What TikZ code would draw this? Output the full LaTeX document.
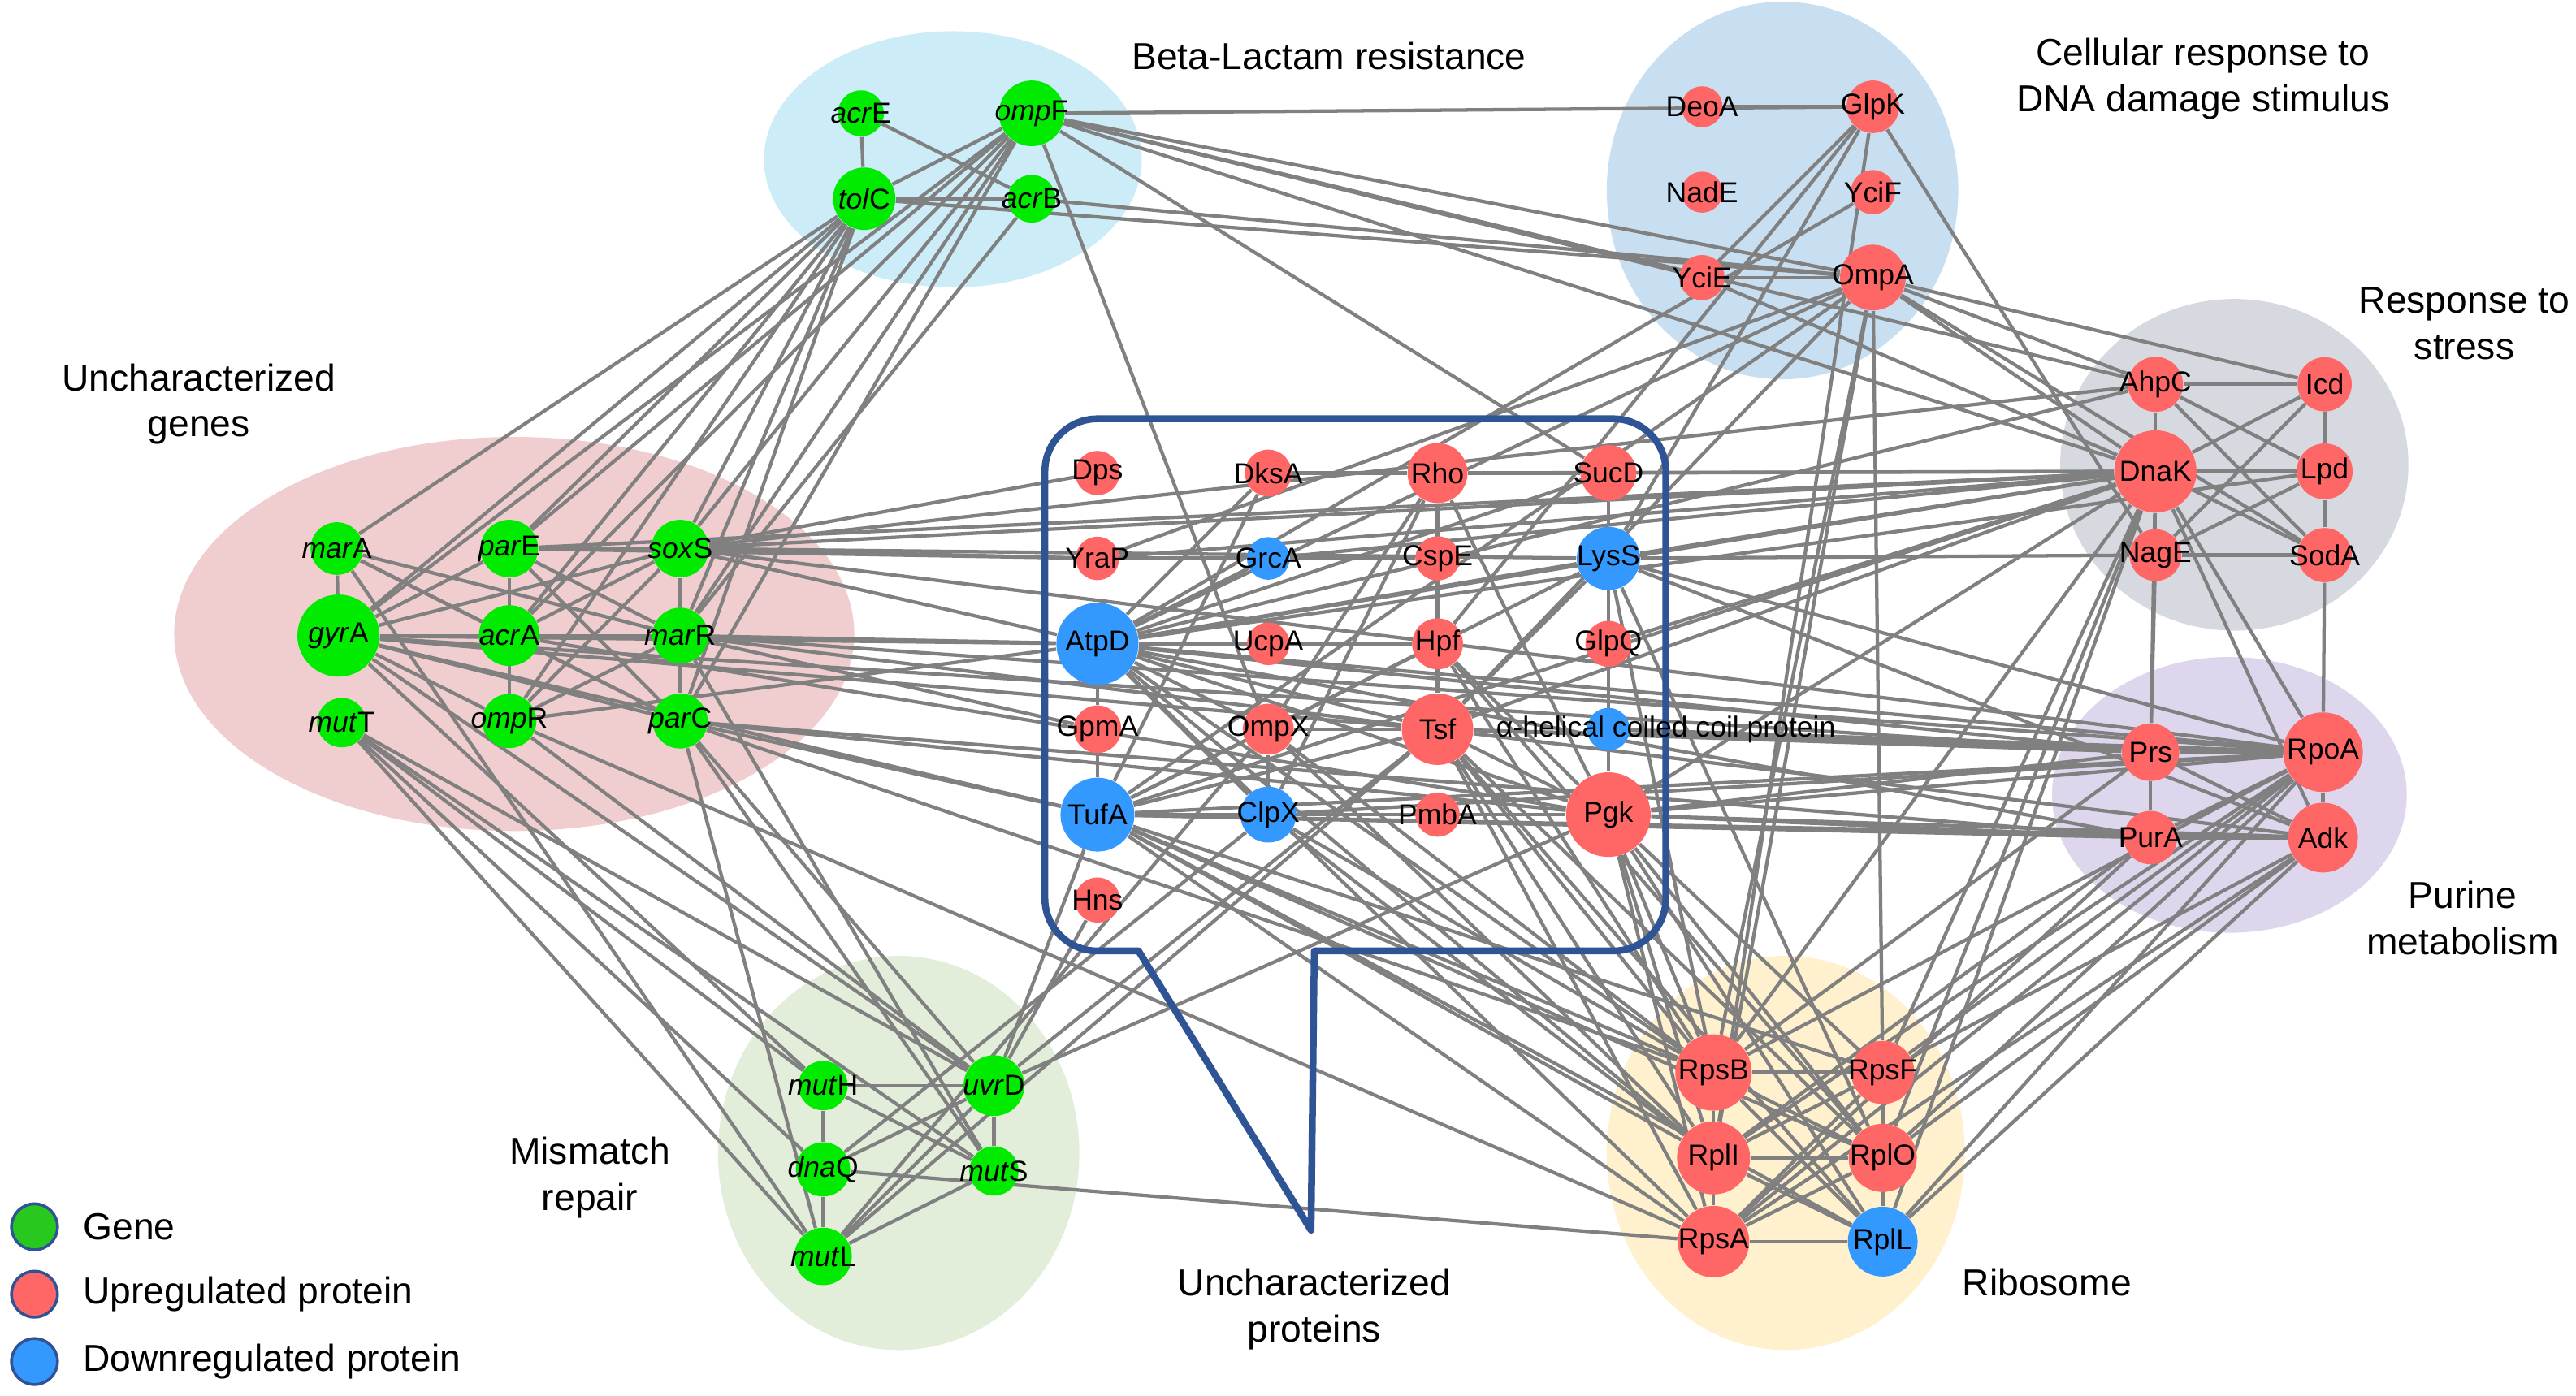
\documentclass[tikz,border=0pt]{standalone}
\usepackage{fontspec}
\setmainfont{Liberation Sans}
\usetikzlibrary{positioning}
\definecolor{genegreen}{RGB}{0,235,0}
\definecolor{upred}{RGB}{255,102,102}
\definecolor{downblue}{RGB}{51,153,255}
\definecolor{edgegray}{RGB}{128,128,128}
\definecolor{boxblue}{RGB}{47,84,150}
\definecolor{leggreen}{RGB}{40,200,30}
\definecolor{bgbeta}{RGB}{204,236,248}
\definecolor{bgdna}{RGB}{200,223,241}
\definecolor{bgstress}{RGB}{214,218,224}
\definecolor{bgpurine}{RGB}{222,214,236}
\definecolor{bggenes}{RGB}{240,205,206}
\definecolor{bgmismatch}{RGB}{226,237,218}
\definecolor{bgribo}{RGB}{255,241,206}
\pgfdeclarelayer{blobs}
\pgfdeclarelayer{links}
\pgfsetlayers{blobs,links,main}

\begin{document}
\begin{tikzpicture}[x=0.02cm,y=-0.02cm,
  nd/.style={circle,inner sep=0pt},
  genenode/.style={nd,fill=genegreen},
  upnode/.style={nd,fill=upred},
  downnode/.style={nd,fill=downblue},
  every label/.style={inner sep=0pt,font=\fontsize{10}{12}\selectfont},
  every edge/.style={draw=edgegray,line width=1.2pt},
  grouptitle/.style={align=center,inner sep=0pt,font=\fontsize{13}{16}\selectfont},
  legcirc/.style={circle,draw=boxblue,line width=1pt,minimum size=0.56cm,inner sep=0pt},
  legtext/.style={inner sep=0pt,font=\fontsize{13}{16}\selectfont}]
\useasboundingbox (0,0) rectangle (1568,850);

% coloured groups
\begin{pgfonlayer}{blobs}
\fill[bgbeta] (580,97) ellipse [x radius=2.3cm, y radius=1.56cm];
\fill[bgdna] (1085,116) ellipse [x radius=2.14cm, y radius=2.3cm];
\fill[bgstress] (1360,283) ellipse [x radius=2.12cm, y radius=2.02cm];
\fill[bgpurine] (1357,484) ellipse [x radius=2.16cm, y radius=1.68cm];
\fill[bggenes] (313,386) ellipse [x radius=4.14cm, y radius=2.4cm];
\fill[bgmismatch] (547,702) ellipse [x radius=2.2cm, y radius=2.4cm];
\fill[bgribo] (1087,702) ellipse [x radius=2.18cm, y radius=2.4cm];
\end{pgfonlayer}

% callout box
\draw[boxblue,line width=2.4pt,line join=round] (693,579) -- (798,749) -- (800,579) -- (982,579)
  arc[start angle=90,end angle=0,radius=32] -- (1014,287)
  arc[start angle=0,end angle=-90,radius=32] -- (668,255)
  arc[start angle=270,end angle=180,radius=32] -- (636,547)
  arc[start angle=180,end angle=90,radius=32] -- cycle;

% beta-lactam resistance
\node[genenode,minimum size=0.56cm,label=center:{\textit{acr}E}] (acrE) at (524,69) {};
\node[genenode,minimum size=0.8cm,label=center:{\textit{omp}F}] (ompF) at (628,69) {};
\node[genenode,minimum size=0.76cm,label=center:{\textit{tol}C}] (tolC) at (526,121) {};
\node[genenode,minimum size=0.58cm,label=center:{\textit{acr}B}] (acrB) at (628,121) {};

% uncharacterized genes
\node[genenode,minimum size=0.64cm,label=center:{\textit{mar}A}] (marA) at (205,334) {};
\node[genenode,minimum size=0.7cm,label=center:{\textit{par}E}] (parE) at (310,334) {};
\node[genenode,minimum size=0.7cm,label=center:{\textit{sox}S}] (soxS) at (414,334) {};
\node[genenode,minimum size=1.0cm,label=center:{\textit{gyr}A}] (gyrA) at (206,387) {};
\node[genenode,minimum size=0.74cm,label=center:{\textit{acr}A}] (acrA) at (310,387) {};
\node[genenode,minimum size=0.68cm,label=center:{\textit{mar}R}] (marR) at (414,387) {};
\node[genenode,minimum size=0.6cm,label=center:{\textit{mut}T}] (mutT) at (208,440) {};
\node[genenode,minimum size=0.66cm,label=center:{\textit{omp}R}] (ompR) at (310,439) {};
\node[genenode,minimum size=0.67cm,label=center:{\textit{par}C}] (parC) at (414,439) {};

% mismatch repair
\node[genenode,minimum size=0.6cm,label=center:{\textit{mut}H}] (mutH) at (501,661) {};
\node[genenode,minimum size=0.74cm,label=center:{\textit{uvr}D}] (uvrD) at (605,661) {};
\node[genenode,minimum size=0.66cm,label=center:{\textit{dna}Q}] (dnaQ) at (501,712) {};
\node[genenode,minimum size=0.6cm,label=center:{\textit{mut}S}] (mutS) at (605,713) {};
\node[genenode,minimum size=0.7cm,label=center:{\textit{mut}L}] (mutL) at (501,765) {};

% DNA damage
\node[upnode,minimum size=0.5cm,label=center:DeoA] (DeoA) at (1036,65) {};
\node[upnode,minimum size=0.64cm,label=center:GlpK] (GlpK) at (1140,65) {};
\node[upnode,minimum size=0.5cm,label=center:NadE] (NadE) at (1036,117) {};
\node[upnode,minimum size=0.54cm,label=center:YciF] (YciF) at (1140,117) {};
\node[upnode,minimum size=0.55cm,label=center:YciE] (YciE) at (1036,169) {};
\node[upnode,minimum size=0.8cm,label=center:OmpA] (OmpA) at (1140,169) {};

% response to stress
\node[upnode,minimum size=0.67cm,label=center:AhpC] (AhpC) at (1312,234) {};
\node[upnode,minimum size=0.66cm,label=center:Icd] (Icd) at (1415,234) {};
\node[upnode,minimum size=1.0cm,label=center:DnaK] (DnaK) at (1312,287) {};
\node[upnode,minimum size=0.68cm,label=center:Lpd] (Lpd) at (1415,287) {};
\node[upnode,minimum size=0.63cm,label=center:NagE] (NagE) at (1312,338) {};
\node[upnode,minimum size=0.66cm,label=center:SodA] (SodA) at (1415,338) {};

% purine metabolism
\node[upnode,minimum size=0.7cm,label=center:Prs] (Prs) at (1309,458) {};
\node[upnode,minimum size=0.97cm,label=center:RpoA] (RpoA) at (1414,458) {};
\node[upnode,minimum size=0.65cm,label=center:PurA] (PurA) at (1309,510) {};
\node[upnode,minimum size=0.85cm,label=center:Adk] (Adk) at (1414,510) {};

% ribosome
\node[upnode,minimum size=0.93cm,label=center:RpsB] (RpsB) at (1043,653) {};
\node[upnode,minimum size=0.77cm,label=center:RpsF] (RpsF) at (1146,653) {};
\node[upnode,minimum size=0.89cm,label=center:RplI] (RplI) at (1043,705) {};
\node[upnode,minimum size=0.83cm,label=center:RplO] (RplO) at (1146,705) {};
\node[upnode,minimum size=0.87cm,label=center:RpsA] (RpsA) at (1043,756) {};
\node[downnode,minimum size=0.85cm,label=center:RplL] (RplL) at (1146,756) {};

% uncharacterized proteins
\node[upnode,minimum size=0.54cm,label=center:Dps] (Dps) at (668,288) {};
\node[upnode,minimum size=0.57cm,label=center:DksA] (DksA) at (772,288) {};
\node[upnode,minimum size=0.73cm,label=center:Rho] (Rho) at (875,288) {};
\node[upnode,minimum size=0.68cm,label=center:SucD] (SucD) at (979,288) {};
\node[upnode,minimum size=0.53cm,label=center:YraP] (YraP) at (668,340) {};
\node[downnode,minimum size=0.52cm,label=center:GrcA] (GrcA) at (772,340) {};
\node[upnode,minimum size=0.54cm,label=center:CspE] (CspE) at (875,340) {};
\node[downnode,minimum size=0.77cm,label=center:LysS] (LysS) at (979,340) {};
\node[downnode,minimum size=1.0cm,label=center:AtpD] (AtpD) at (668,392) {};
\node[upnode,minimum size=0.52cm,label=center:UcpA] (UcpA) at (772,392) {};
\node[upnode,minimum size=0.62cm,label=center:Hpf] (Hpf) at (875,392) {};
\node[upnode,minimum size=0.56cm,label=center:GlpQ] (GlpQ) at (979,392) {};
\node[upnode,minimum size=0.58cm,label=center:GpmA] (GpmA) at (668,444) {};
\node[upnode,minimum size=0.62cm,label=center:OmpX] (OmpX) at (772,444) {};
\node[upnode,minimum size=0.87cm,label=center:Tsf] (Tsf) at (875,444) {};
\node[downnode,minimum size=0.52cm] (helix) at (979,444) {};
\node[inner sep=0pt,font=\fontsize{10}{12}\selectfont] (helixtext) at (1014,444) {α-helical coiled coil protein};
\node[downnode,minimum size=0.9cm,label=center:TufA] (TufA) at (668,496) {};
\node[downnode,minimum size=0.68cm,label=center:ClpX] (ClpX) at (772,496) {};
\node[upnode,minimum size=0.54cm,label=center:PmbA] (PmbA) at (875,496) {};
\node[upnode,minimum size=1.03cm,label=center:Pgk] (Pgk) at (979,496) {};
\node[upnode,minimum size=0.55cm,label=center:Hns] (Hns) at (668,548) {};

% group titles
\node[grouptitle] (tBeta) at (809,34) {Beta-Lactam resistance};
\node[grouptitle] (tDNA) at (1341,48) {Cellular response to\\DNA damage stimulus};
\node[grouptitle] (tStress) at (1500,197) {Response to\\stress};
\node[grouptitle] (tGenes) at (121,246) {Uncharacterized\\genes};
\node[grouptitle] (tPurine) at (1499,559) {Purine\\metabolism};
\node[grouptitle] (tMismatch) at (359,717) {Mismatch\\repair};
\node[grouptitle] (tProteins) at (800,797) {Uncharacterized\\proteins};
\node[grouptitle] (tRibo) at (1246,781) {Ribosome};

% legend
\node[legcirc,fill=leggreen] (legGene) at (21,747) {};
\node[legcirc,fill=upred] (legUp) at (21,788) {};
\node[legcirc,fill=downblue] (legDown) at (21,829) {};
\node[legtext,right=0.29cm of legGene] (legGeneText) {Gene};
\node[legtext,right=0.29cm of legUp] (legUpText) {Upregulated protein};
\node[legtext,right=0.29cm of legDown] (legDownText) {Downregulated protein};

% interactions
\begin{pgfonlayer}{links}
\path (acrE) edge (tolC) edge (acrB);
\path (tolC) edge (acrB) edge (ompF) edge (OmpA) edge (marA) edge (gyrA) edge (parE) edge (acrA) edge (soxS) edge (marR) edge (parC) edge (ompR);
\path (ompF) edge (GlpK) edge (OmpA) edge (YciE) edge (DnaK) edge (AhpC) edge (SucD) edge (OmpX) edge (gyrA) edge (parE) edge (acrA) edge (soxS) edge (marR) edge (parC);
\path (acrB) edge (marR) edge (OmpA);
\path (DeoA) edge (GlpK);
\path (GlpK) edge (YciE) edge (Hpf) edge (LysS) edge (RplI) edge (NagE);
\path (YciF) edge (AtpD);
\path (YciE) edge (OmpA) edge (DnaK);
\path (OmpA) edge (DnaK) edge (AhpC) edge (Icd) edge (SodA) edge (AtpD) edge (TufA) edge (YraP) edge (RpsF) edge (RplI) edge (RpsB) edge (Tsf);
\path (marA) edge (gyrA) edge (acrA) edge (marR) edge (parC) edge (mutL);
\path (parE) edge (acrA) edge (soxS) edge (marR) edge (parC) edge (gyrA) edge (ompR) edge (YraP) edge (DnaK);
\path (soxS) edge (marR) edge (gyrA) edge (acrA) edge (ompR) edge (parC) edge (Dps) edge (YraP) edge (LysS) edge (DnaK) edge (AhpC) edge (AtpD) edge (RpoA);
\path (gyrA) edge (acrA) edge (marR) edge (parC) edge (ompR) edge (AtpD) edge (Tsf) edge (TufA) edge (uvrD) edge (mutH) edge (Prs);
\path (acrA) edge (parC) edge (AtpD) edge (Pgk) edge (marR);
\path (marR) edge (parC) edge (ompR) edge (AtpD) edge (Tsf) edge (GpmA) edge (RpoA) edge (mutS);
\path (parC) edge (TufA) edge (Pgk) edge (uvrD) edge (mutS) edge (mutL) edge (RpsB) edge (PurA);
\path (ompR) edge (uvrD) edge (AtpD) edge (RpsA);
\path (mutT) edge (mutH) edge (dnaQ) edge (mutL) edge (uvrD) edge (mutS);
\path (mutH) edge (uvrD) edge (dnaQ) edge (mutS);
\path (dnaQ) edge (mutL) edge (uvrD) edge (RpsA) edge (ClpX);
\path (uvrD) edge (mutS) edge (mutL) edge (Hns) edge (TufA) edge (Tsf) edge (Pgk);
\path (mutS) edge (mutL);
\path (mutL) edge (Tsf) edge (OmpX);
\path (DksA) edge (Rho) edge (AtpD) edge (TufA);
\path (Rho) edge (CspE) edge (SucD) edge (Pgk) edge (Tsf) edge (ClpX) edge (OmpX) edge (DnaK);
\path (CspE) edge (Hpf) edge (GrcA);
\path (YraP) edge (GrcA) edge (DnaK);
\path (GrcA) edge (AtpD) edge (DnaK);
\path (SucD) edge (LysS) edge (DnaK) edge (AtpD);
\path (LysS) edge (GlpQ) edge (AtpD) edge (NagE) edge (DnaK) edge (RpoA) edge (Adk) edge (RpsB) edge (RplO) edge (Pgk) edge (OmpX) edge (Tsf);
\path (AtpD) edge (GpmA) edge (Tsf) edge (Pgk) edge (ClpX) edge (OmpX) edge (Hpf) edge (UcpA) edge (PurA) edge (Prs) edge (RpoA) edge (DnaK) edge (AhpC) edge (Lpd) edge (RpsB) edge (RplI) edge (RpsA);
\path (Hpf) edge (Tsf) edge (Pgk) edge (RplO) edge (TufA) edge (RpsB);
\path (GlpQ) edge (helix) edge (DnaK);
\path (helix) edge (Pgk) edge (Prs) edge (RpoA);
\path (GpmA) edge (TufA);
\path (OmpX) edge (TufA) edge (ClpX) edge (Tsf) edge (RpsB) edge (RplI);
\path (Tsf) edge (Pgk) edge (Prs) edge (RpoA) edge (DnaK) edge (Adk) edge (TufA) edge (RpsB) edge (RplI) edge (RplO) edge (RpsA) edge (RplL);
\path (TufA) edge (ClpX) edge (Pgk) edge (DnaK) edge (PurA) edge (RpoA) edge (RpsB) edge (RpsF) edge (RplI) edge (RplO) edge (RpsA) edge (RplL) edge (Adk);
\path (ClpX) edge (PmbA) edge (RpsB) edge (RplI) edge (RpoA);
\path (PmbA) edge (Pgk);
\path (Pgk) edge (PurA) edge (Adk) edge (RpoA) edge (Prs) edge (DnaK) edge (RpsB) edge (RpsF) edge (RplI) edge (RplO) edge (RpsA) edge (RplL);
\path (AhpC) edge (DnaK) edge (Icd) edge (Lpd) edge (SodA);
\path (Icd) edge (Lpd) edge (DnaK) edge (NagE);
\path (Lpd) edge (DnaK) edge (SodA) edge (NagE);
\path (DnaK) edge (NagE) edge (SodA) edge (RpoA) edge (Adk) edge (Prs) edge (RpsB) edge (RpsF) edge (RplO) edge (RplL);
\path (NagE) edge (SodA) edge (Prs);
\path (SodA) edge (RpoA);
\path (Prs) edge (RpoA) edge (PurA) edge (Adk) edge (RpsB);
\path (RpoA) edge (Adk) edge (PurA) edge (RpsB) edge (RpsF) edge (RplI) edge (RplO) edge (RpsA) edge (RplL);
\path (PurA) edge (Adk) edge (RplI) edge (RpsA);
\path (Adk) edge (RpsF) edge (RplO) edge (RplL) edge (RpsA);
\path (RpsB) edge (RpsF) edge (RplI) edge (RplO) edge (RpsA) edge (RplL);
\path (RpsF) edge (RplI) edge (RplO) edge (RpsA) edge (RplL);
\path (RplI) edge (RplO) edge (RpsA) edge (RplL);
\path (RplO) edge (RpsA) edge (RplL);
\path (RpsA) edge (RplL);
\end{pgfonlayer}
\end{tikzpicture}
\end{document}
